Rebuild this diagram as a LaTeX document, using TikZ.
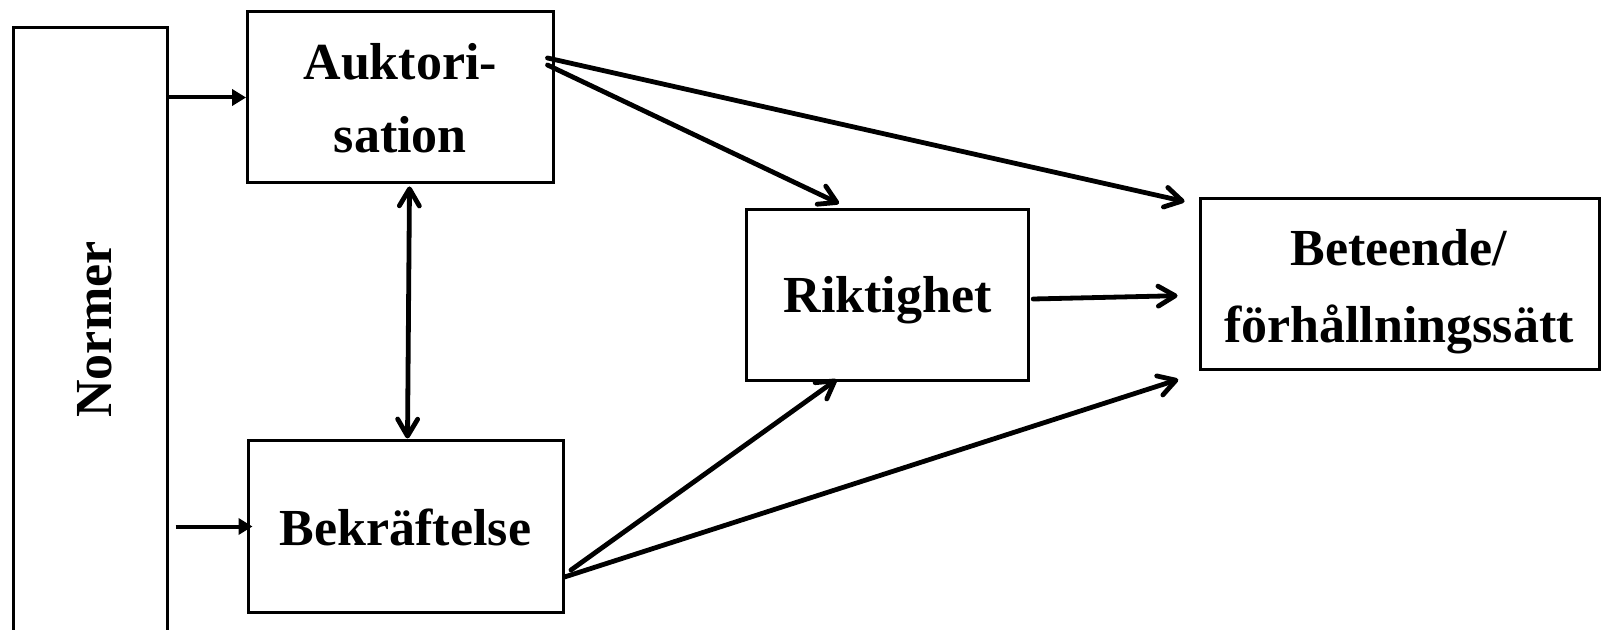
\documentclass[tikz,border=0pt]{standalone}
\usepackage{fontspec}
\setmainfont{Liberation Serif}
\usetikzlibrary{arrows.meta,calc}
\begin{document}
\begin{tikzpicture}[x=0.5pt,y=-0.5pt,
  box/.style={draw, line width=1.5pt, inner sep=0pt},
  lbl/.style={font=\fontsize{26}{36}\selectfont\bfseries, anchor=base, inner sep=0pt},
  conn/.style={line width=2.4pt, line cap=round, -{Straight Barb[length=8.5pt,width=10pt,round]}},
  dconn/.style={line width=2.4pt, line cap=round, {Straight Barb[length=8.5pt,width=10pt,round]}-{Straight Barb[length=8.5pt,width=10pt,round]}},
  feed/.style={line width=2pt, -{Triangle[length=7pt,width=8pt]}},
]
\useasboundingbox (0,0) rectangle (1601,630);
\fill[white] (0,0) rectangle (1601,630);
\clip (0,0) rectangle (1601,630);

% boxes
\node[box, minimum width=76.8pt, minimum height=306.35pt] (N) at (90.2,333.6) {};
\node[box, minimum width=152.7pt, minimum height=85.5pt] (A) at (400.3,97.5) {};
\node[box, minimum width=157.5pt, minimum height=85.5pt] (B) at (405.5,526.5) {};
\node[box, minimum width=140.8pt, minimum height=85.5pt] (R) at (887.2,295.5) {};
\node[box, minimum width=199.25pt, minimum height=85.5pt] (T) at (1399.8,284.5) {};

% labels
\node[lbl, rotate=90] (tN) at (111,329.5) {Normer};
\node[lbl] (tA1) at (400.3,80) {Auktori-};
\node[lbl] (tA2) at (400.3,153) {sation};
\node[lbl] (tB) at (405.5,545.6) {Bekräftelse};
\node[lbl] (tR) at (887.5,313) {Riktighet};
\node[lbl] (tT1) at (1399,266) {Beteende/};
\node[lbl] (tT2) at (1399,342.7) {förhållningssätt};

% connectors
\draw[feed] (N.east |- A.west) -- (A.west);
\draw[feed] ($(N.east |- B.west)+(7,0)$) -- ($(B.west)+(6,0)$);
\draw[dconn] ($(A.south)+(9.2,2)$) -- ($(B.north)+(2,-1)$);
\draw[conn] ($(A.east)+(-7,-32.5)$) -- ($(R.north)+(-48.2,-5)$);
\draw[conn] ($(A.east)+(-7,-39.5)$) -- ($(T.north west)+(-14.5,4)$);
\draw[conn] ($(R.east)+(3.7,3.5)$) -- ($(T.west)+(-21.5,11.2)$);
\draw[conn] ($(B.east)+(6.5,43.5)$) -- ($(R.south)+(-50.5,-3)$);
\draw[conn] ($(B.east)+(0,50.5)$) -- ($(T.south west)+(-20.8,8)$);
\end{tikzpicture}
\end{document}
